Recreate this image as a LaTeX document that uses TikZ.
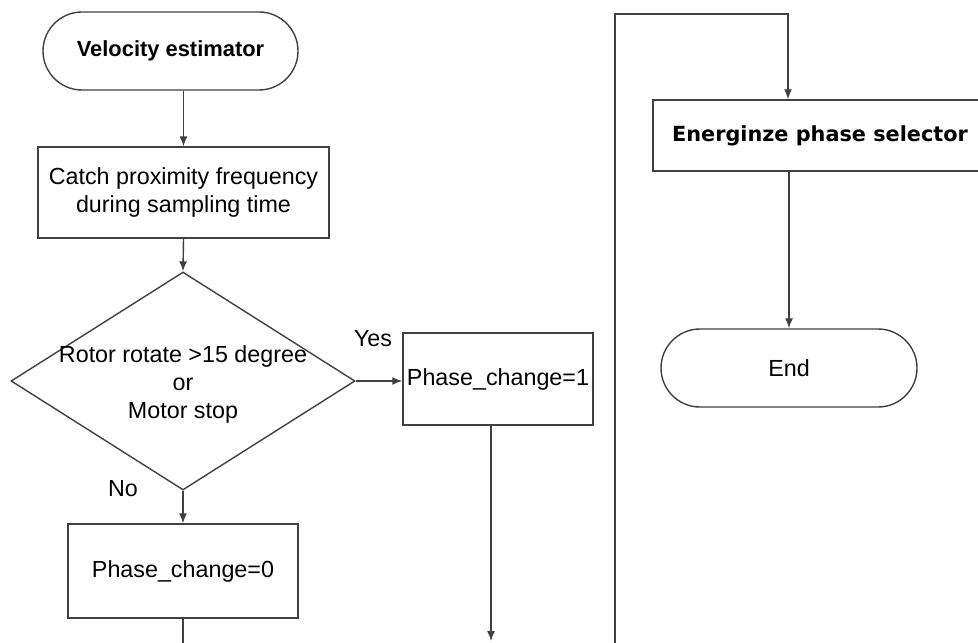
\documentclass[tikz,border=0pt]{standalone}
\usepackage{fontspec}
\setmainfont{Liberation Sans}
\newfontfamily\verdfont{DejaVu Sans}
\usetikzlibrary{shapes.geometric,shapes.misc,arrows.meta}
\newcommand{\flowfont}{\fontsize{11.65}{14}\selectfont}
\begin{document}
\begin{tikzpicture}[x=0.5pt, y=-0.5pt,
  term/.style={rounded rectangle, draw=black!75, line width=0.7pt, minimum height=39pt, inner sep=0pt, font=\flowfont},
  proc/.style={rectangle, draw=black!75, line width=0.7pt, inner sep=2pt, align=center, font=\flowfont},
  decision/.style={diamond, draw=black!75, line width=0.7pt, minimum width=172pt, minimum height=109pt, inner sep=0pt},
  lbl/.style={inner sep=0pt, font=\flowfont},
  flow/.style={draw=black!75, line width=0.7pt, -{Latex[length=5pt, width=4pt]}},
  wire/.style={draw=black!75, line width=0.7pt}]
  \useasboundingbox (0,0) rectangle (978,642);
  % left column
  \node[term, minimum width=127.5pt, font=\bfseries\fontsize{10.95}{13}\selectfont] (vel) at (170.5,51) {Velocity estimator};
  \node[proc, minimum width=145.5pt, minimum height=45.5pt] (catch) at (183.5,192.5) {Catch proximity frequency\\during sampling time};
  \node[decision] (dec) at (183,381) {};
  \node[lbl, align=center] (dectxt) at (183,384) {Rotor rotate >15 degree\\or\\Motor stop};
  \node[proc, minimum width=115pt, minimum height=47pt] (p0) at (183,571) {Phase\_change=0};
  \node[proc, minimum width=94pt, minimum height=46pt] (p1) at (498,379) {Phase\_change=1};
  \node[lbl] (yes) at (373,339) {Yes};
  \node[lbl] (no) at (123,489) {No};
  % right column
  \node[proc, minimum width=167pt, minimum height=35.5pt, font=\verdfont\bfseries\fontsize{10.4}{12}\selectfont] (ener) at (820,135.5) {Energinze phase selector};
  \node[term, minimum width=128pt] (endn) at (789,368) {End};
  \coordinate (p0out) at (183,645);
  \coordinate (p1out) at (491,641);
  \coordinate (loopin) at (615,645);
  \coordinate (looptop) at (788,14);
  % connectors
  \draw[flow] (vel.south -| catch.north) -- (catch.north);
  \draw[flow] (catch.south) -- (dec.north);
  \draw[flow] (dec.east) -- (dec.east -| p1.west);
  \draw[flow] (dec.south) -- (p0.north);
  \draw[wire] (p0.south) -- (p0out);
  \draw[flow] (p1.south -| p1out) -- (p1out);
  \draw[flow] (loopin) |- (looptop) -- (looptop |- ener.north);
  \draw[flow] (endn.north |- ener.south) -- (endn.north);
\end{tikzpicture}
\end{document}
